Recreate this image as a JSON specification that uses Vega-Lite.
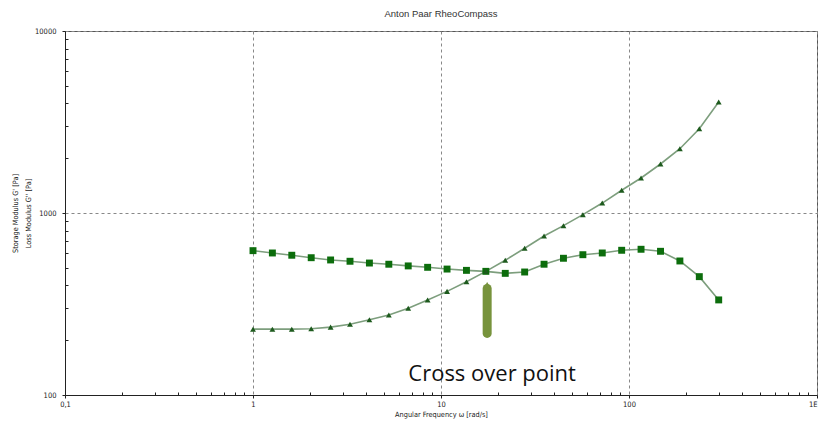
{
  "$schema": "https://vega.github.io/schema/vega-lite/v6.json",
  "width": 752,
  "height": 364,
  "autosize": {"type": "none"},
  "padding": {"left": 65, "top": 31, "right": 1, "bottom": 30},
  "background": "white",
  "title": {"text": "Anton Paar RheoCompass", "font": "Liberation Sans", "fontSize": 9.5, "fontWeight": "normal", "color": "#333", "offset": 9, "anchor": "middle"},
  "config": {
    "view": {"stroke": "#555", "strokeWidth": 1},
    "axis": {"domainColor": "#222", "tickColor": "#222", "labelColor": "#222", "titleColor": "#222", "labelFont": "DejaVu Sans Condensed", "titleFont": "DejaVu Sans Condensed", "titleFontWeight": "normal", "labelFontSize": 7.5, "titleFontSize": 7.3}
  },
  "datasets": {
    "moduli": [
      {"freq": 1.0, "modulus": 621, "series": "G'"},
      {"freq": 1.268, "modulus": 603, "series": "G'"},
      {"freq": 1.608, "modulus": 586, "series": "G'"},
      {"freq": 2.04, "modulus": 568, "series": "G'"},
      {"freq": 2.587, "modulus": 552, "series": "G'"},
      {"freq": 3.281, "modulus": 543, "series": "G'"},
      {"freq": 4.161, "modulus": 531, "series": "G'"},
      {"freq": 5.278, "modulus": 523, "series": "G'"},
      {"freq": 6.694, "modulus": 512, "series": "G'"},
      {"freq": 8.49, "modulus": 503, "series": "G'"},
      {"freq": 10.77, "modulus": 492, "series": "G'"},
      {"freq": 13.66, "modulus": 484, "series": "G'"},
      {"freq": 17.32, "modulus": 478, "series": "G'"},
      {"freq": 21.97, "modulus": 466, "series": "G'"},
      {"freq": 27.86, "modulus": 474, "series": "G'"},
      {"freq": 35.33, "modulus": 523, "series": "G'"},
      {"freq": 44.81, "modulus": 564, "series": "G'"},
      {"freq": 56.84, "modulus": 590, "series": "G'"},
      {"freq": 72.08, "modulus": 603, "series": "G'"},
      {"freq": 91.42, "modulus": 624, "series": "G'"},
      {"freq": 115.9, "modulus": 632, "series": "G'"},
      {"freq": 147.1, "modulus": 616, "series": "G'"},
      {"freq": 186.5, "modulus": 545, "series": "G'"},
      {"freq": 236.6, "modulus": 447, "series": "G'"},
      {"freq": 300, "modulus": 333, "series": "G'"},
      {"freq": 1.0, "modulus": 230, "series": "G''"},
      {"freq": 1.268, "modulus": 230, "series": "G''"},
      {"freq": 1.608, "modulus": 230, "series": "G''"},
      {"freq": 2.04, "modulus": 231, "series": "G''"},
      {"freq": 2.587, "modulus": 236, "series": "G''"},
      {"freq": 3.281, "modulus": 245, "series": "G''"},
      {"freq": 4.161, "modulus": 259, "series": "G''"},
      {"freq": 5.278, "modulus": 275, "series": "G''"},
      {"freq": 6.694, "modulus": 300, "series": "G''"},
      {"freq": 8.49, "modulus": 333, "series": "G''"},
      {"freq": 10.77, "modulus": 371, "series": "G''"},
      {"freq": 13.66, "modulus": 419, "series": "G''"},
      {"freq": 17.32, "modulus": 478, "series": "G''"},
      {"freq": 21.97, "modulus": 550, "series": "G''"},
      {"freq": 27.86, "modulus": 640, "series": "G''"},
      {"freq": 35.33, "modulus": 747, "series": "G''"},
      {"freq": 44.81, "modulus": 852, "series": "G''"},
      {"freq": 56.84, "modulus": 979, "series": "G''"},
      {"freq": 72.08, "modulus": 1134, "series": "G''"},
      {"freq": 91.42, "modulus": 1333, "series": "G''"},
      {"freq": 115.9, "modulus": 1557, "series": "G''"},
      {"freq": 147.1, "modulus": 1859, "series": "G''"},
      {"freq": 186.5, "modulus": 2256, "series": "G''"},
      {"freq": 236.6, "modulus": 2905, "series": "G''"},
      {"freq": 300, "modulus": 4073, "series": "G''"}
    ],
    "arrow": [{"freq": 17.6, "modulus": 218, "modulus2": 385, "tip": 400}],
    "label": [{"freq": 18.7, "modulus": 130, "text": "Cross over point"}]
  },
  "encoding": {
    "x": {
      "field": "freq", "type": "quantitative",
      "scale": {"type": "log", "domain": [0.1, 1000], "nice": false},
      "axis": {
        "title": "Angular Frequency ω [rad/s]",
        "values": [0.1,0.2,0.3,0.4,0.5,0.6,0.7,0.8,0.9,1,2,3,4,5,6,7,8,9,10,20,30,40,50,60,70,80,90,100,200,300,400,500,600,700,800,900,1000],
        "labelExpr": "abs(log(datum.value)/LN10 - round(log(datum.value)/LN10)) < 0.001 ? (datum.value < 0.5 ? '0,1' : (datum.value > 500 ? '1E' : format(datum.value, 'd'))) : ''",
        "labelAlign": {"condition": {"test": "datum.value > 500", "value": "right"}, "value": "center"},
        "labelFlush": false,
        "labelOverlap": false,
        "labelPadding": 2,
        "titlePadding": 3,
        "tickSize": {"condition": {"test": "abs(log(datum.value)/LN10 - round(log(datum.value)/LN10)) < 0.001", "value": 3}, "value": -3},
        "grid": true,
        "gridDash": [3, 3],
        "gridColor": "#888",
        "gridOpacity": {"condition": {"test": "abs(log(datum.value)/LN10 - round(log(datum.value)/LN10)) < 0.001", "value": 1}, "value": 0}
      }
    },
    "y": {
      "field": "modulus", "type": "quantitative",
      "scale": {"type": "log", "domain": [100, 10000], "nice": false},
      "axis": {
        "title": ["Storage Modulus G' [Pa]", "Loss Modulus G'' [Pa]"],
        "titleLineHeight": 13,
        "values": [100,200,300,400,500,600,700,800,900,1000,2000,3000,4000,5000,6000,7000,8000,9000,10000],
        "labelExpr": "abs(log(datum.value)/LN10 - round(log(datum.value)/LN10)) < 0.001 ? format(datum.value, 'd') : ''",
        "labelFlush": false,
        "labelOverlap": false,
        "labelPadding": 6,
        "titlePadding": 2,
        "tickSize": {"condition": {"test": "abs(log(datum.value)/LN10 - round(log(datum.value)/LN10)) < 0.001", "value": 3}, "value": -3},
        "grid": true,
        "gridDash": [3, 3],
        "gridColor": "#888",
        "gridOpacity": {"condition": {"test": "abs(log(datum.value)/LN10 - round(log(datum.value)/LN10)) < 0.001", "value": 1}, "value": 0}
      }
    }
  },
  "layer": [
    {
      "data": {"name": "moduli"},
      "mark": {"type": "line", "color": "#7d9e7d", "strokeWidth": 1.6},
      "encoding": {"detail": {"field": "series"}}
    },
    {
      "data": {"name": "moduli"},
      "mark": {"type": "point", "filled": true, "opacity": 1, "strokeWidth": 0.8},
      "encoding": {
        "shape": {"field": "series", "type": "nominal", "scale": {"domain": ["G'", "G''"], "range": ["square", "triangle-up"]}, "legend": null},
        "color": {"field": "series", "type": "nominal", "scale": {"domain": ["G'", "G''"], "range": ["#0c6d0c", "#1d5a1d"]}, "legend": null},
        "size": {"field": "series", "type": "nominal", "scale": {"domain": ["G'", "G''"], "range": [48, 34]}, "legend": null}
      }
    },
    {
      "data": {"name": "arrow"},
      "mark": {"type": "rule", "color": "#77933c", "strokeWidth": 9, "strokeCap": "round"},
      "encoding": {"y2": {"field": "modulus2"}}
    },
    {
      "data": {"name": "arrow"},
      "mark": {"type": "point", "shape": "triangle-up", "filled": true, "color": "#77933c", "opacity": 1, "size": 60},
      "encoding": {"y": {"field": "tip", "type": "quantitative"}}
    },
    {
      "data": {"name": "label"},
      "mark": {"type": "text", "font": "Open Sans", "fontSize": 22, "color": "#111", "align": "center", "baseline": "middle"},
      "encoding": {"text": {"field": "text"}}
    }
  ]
}
